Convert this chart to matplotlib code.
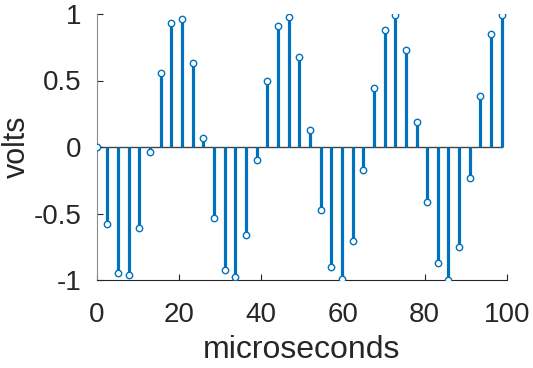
import matplotlib
matplotlib.use('Agg')
import matplotlib.pyplot as plt

plt.rcParams['font.family'] = ['Liberation Sans', 'DejaVu Sans']

# sample times (microseconds) and measured voltages
t = [0.0, 2.6, 5.2, 7.8, 10.4, 13.0, 15.6, 18.2, 20.8, 23.4,
     26.0, 28.6, 31.2, 33.8, 36.4, 39.0, 41.6, 44.2, 46.8, 49.4,
     52.0, 54.6, 57.2, 59.8, 62.4, 65.0, 67.6, 70.2, 72.8, 75.4,
     78.0, 80.6, 83.2, 85.8, 88.4, 91.0, 93.6, 96.2, 98.8]
volts = [0.0, -0.58, -0.95, -0.96, -0.61, -0.035, 0.555, 0.935, 0.965, 0.635,
         0.065, -0.53, -0.925, -0.975, -0.66, -0.10, 0.50, 0.91, 0.98, 0.68,
         0.13, -0.47, -0.90, -0.99, -0.71, -0.17, 0.44, 0.88, 0.99, 0.73,
         0.19, -0.415, -0.87, -1.0, -0.755, -0.23, 0.38, 0.85, 0.995]
yticks = [-1, -0.5, 0, 0.5, 1]
ytick_labels = ['-1', '-0.5', '0', '0.5', '1']
xticks = [0, 20, 40, 60, 80, 100]

blue = '#0072BD'
fig = plt.figure(figsize=(5.33, 3.68), dpi=100)
ax = fig.add_axes([0.1814, 0.239, 0.7693, 0.723])

markerline, stemlines, baseline = ax.stem(t, volts, linefmt='-', markerfmt='o', basefmt='-')
plt.setp(stemlines, color=blue, linewidth=2.3)
plt.setp(markerline, color=blue, markersize=4.6, markerfacecolor='white',
         markeredgewidth=1.0, zorder=3)
plt.setp(baseline, color='#444444', linewidth=1.0, zorder=1)

ax.set_xlim(0, 100)
ax.set_ylim(-1, 1)
ax.set_xticks(xticks)
ax.set_yticks(yticks)
ax.set_yticklabels(ytick_labels)
ax.tick_params(direction='in', length=4, width=0.8, labelsize=20, colors='#262626')
ax.tick_params(axis='x', pad=16)
ax.tick_params(axis='y', pad=11)
ax.spines['top'].set_visible(False)
ax.spines['right'].set_visible(False)
ax.spines['left'].set_color('#8c8c8c')
ax.spines['bottom'].set_color('#262626')
ax.set_xlabel('microseconds', fontsize=23, color='#262626', labelpad=5)
ax.set_ylabel('volts', fontsize=22, color='#262626', labelpad=1)

fig.savefig('out.png', dpi=100)
